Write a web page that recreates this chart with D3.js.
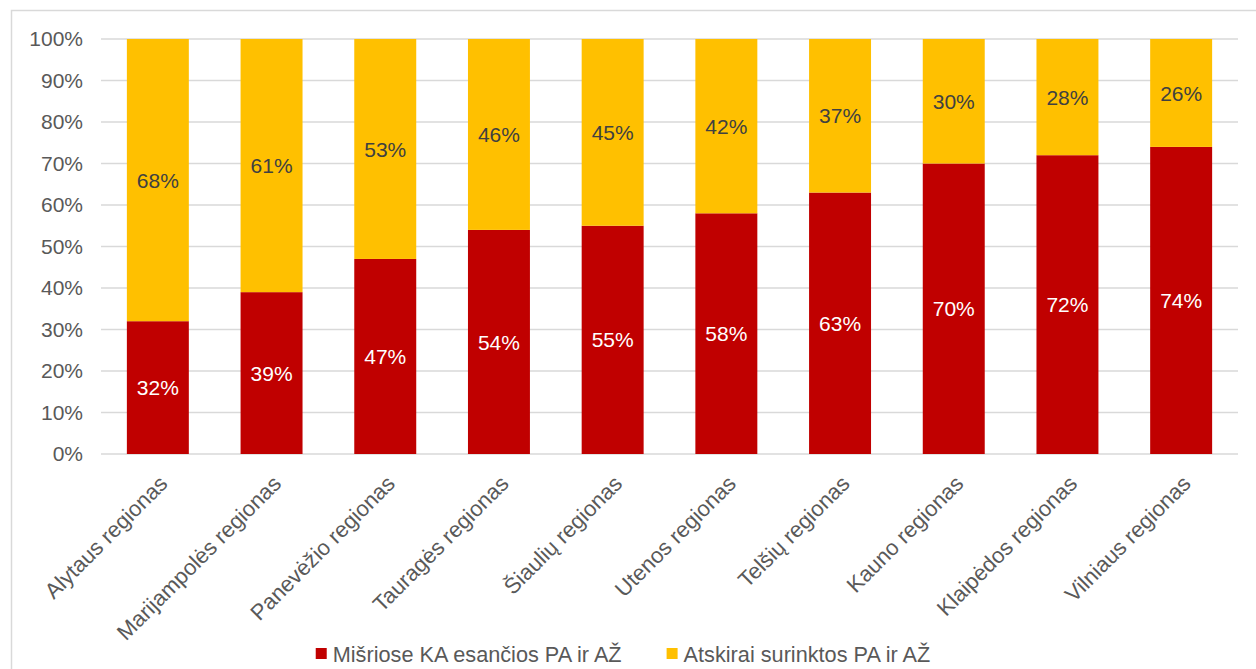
<!DOCTYPE html>
<html>
<head>
<meta charset="utf-8">
<script src="https://cdn.jsdelivr.net/npm/d3@7"></script>
<style>
  html, body { margin: 0; padding: 0; background: #fff; }
  svg { display: block; font-family: "Liberation Sans", Arial, sans-serif; }
</style>
</head>
<body>
<svg id="chart" width="1256" height="669"></svg>
<script>
// Regions and the share of each waste stream (percent)
const regions = [
  "Alytaus regionas", "Marijampolės regionas", "Panevėžio regionas",
  "Tauragės regionas", "Šiaulių regionas", "Utenos regionas",
  "Telšių regionas", "Kauno regionas", "Klaipėdos regionas", "Vilniaus regionas"
];
const mixedShare    = [32, 39, 47, 54, 55, 58, 63, 70, 72, 74];
const separateShare = [68, 61, 53, 46, 45, 42, 37, 30, 28, 26];
const seriesNames = ["Mišriose KA esančios PA ir AŽ", "Atskirai surinktos PA ir AŽ"];
const seriesColors = ["#C00000", "#FFC000"];
const yTicks = [0, 10, 20, 30, 40, 50, 60, 70, 80, 90, 100];

const svg = d3.select("#chart");
const W = 1256, H = 669;
const plot = { left: 101, right: 1238, top: 39, bottom: 454 };

// Outer chart frame
svg.append("rect")
  .attr("x", 11.5).attr("y", 10.5)
  .attr("width", W).attr("height", H)
  .attr("fill", "none").attr("stroke", "#D9D9D9").attr("stroke-width", 1.5);

const x = d3.scaleBand().domain(regions).range([plot.left, plot.right])
  .paddingInner(0.455).paddingOuter(0.2275);
const y = d3.scaleLinear().domain([0, 100]).range([plot.bottom, plot.top]);

// Horizontal gridlines
svg.append("g").selectAll("line").data(yTicks).join("line")
  .attr("x1", plot.left).attr("x2", plot.right)
  .attr("y1", d => y(d)).attr("y2", d => y(d))
  .attr("stroke", "#D9D9D9").attr("stroke-width", 1.5);

// Y axis labels
const yAxis = d3.axisLeft(y).tickValues(yTicks).tickFormat(d => d + "%").tickSize(0).tickPadding(0);
const gy = svg.append("g").attr("transform", `translate(${plot.left - 18},0)`).call(yAxis);
gy.select(".domain").remove();
gy.selectAll("text")
  .attr("fill", "#595959").style("font-size", "21px")
  .style("font-family", "'Liberation Sans', Arial, sans-serif");

// Stacked data
const rows = regions.map((r, i) => ({ region: r, mixed: mixedShare[i], separate: separateShare[i] }));
const stack = d3.stack().keys(["mixed", "separate"]);
const layers = stack(rows);

const gBars = svg.append("g");
layers.forEach((layer, li) => {
  gBars.append("g").selectAll("rect").data(layer).join("rect")
    .attr("x", d => x(d.data.region))
    .attr("width", x.bandwidth())
    .attr("y", d => y(d[1]))
    .attr("height", d => y(d[0]) - y(d[1]))
    .attr("fill", seriesColors[li]);
});

// Value labels centred in each segment
layers.forEach((layer, li) => {
  gBars.append("g").selectAll("text").data(layer).join("text")
    .attr("x", d => x(d.data.region) + x.bandwidth() / 2)
    .attr("y", d => (y(d[0]) + y(d[1])) / 2)
    .attr("dy", "0.36em")
    .attr("text-anchor", "middle")
    .attr("fill", li === 0 ? "#FFFFFF" : "#404040")
    .style("font-size", "21px")
    .text(d => (d[1] - d[0]) + "%");
});

// Category axis labels, rotated
const xAxis = d3.axisBottom(x).tickSize(0).tickPadding(0);
const gx = svg.append("g").attr("transform", `translate(0,${plot.bottom})`).call(xAxis);
gx.select(".domain").remove();
gx.selectAll("text")
  .attr("fill", "#595959").style("font-size", "22px")
  .style("font-family", "'Liberation Sans', Arial, sans-serif")
  .attr("text-anchor", "end")
  .attr("y", 0).attr("dy", 0)
  .attr("transform", "translate(11,31) rotate(-45)");

// Legend, laid out left to right and centred under the plot
const gl = svg.append("g");
const items = seriesNames.map((name, i) => {
  const g = gl.append("g");
  g.append("rect").attr("x", 0).attr("y", -14).attr("width", 11).attr("height", 11).attr("fill", seriesColors[i]);
  const t = g.append("text").attr("x", 17).attr("y", 0)
    .attr("fill", "#595959").style("font-size", "21.7px").text(name);
  return { g, width: 17 + t.node().getComputedTextLength() };
});
const gap = 45;
const total = d3.sum(items, d => d.width) + gap * (items.length - 1);
let cursor = 623 - total / 2;
items.forEach(it => {
  it.g.attr("transform", `translate(${cursor},662)`);
  cursor += it.width + gap;
});
</script>
</body>
</html>
